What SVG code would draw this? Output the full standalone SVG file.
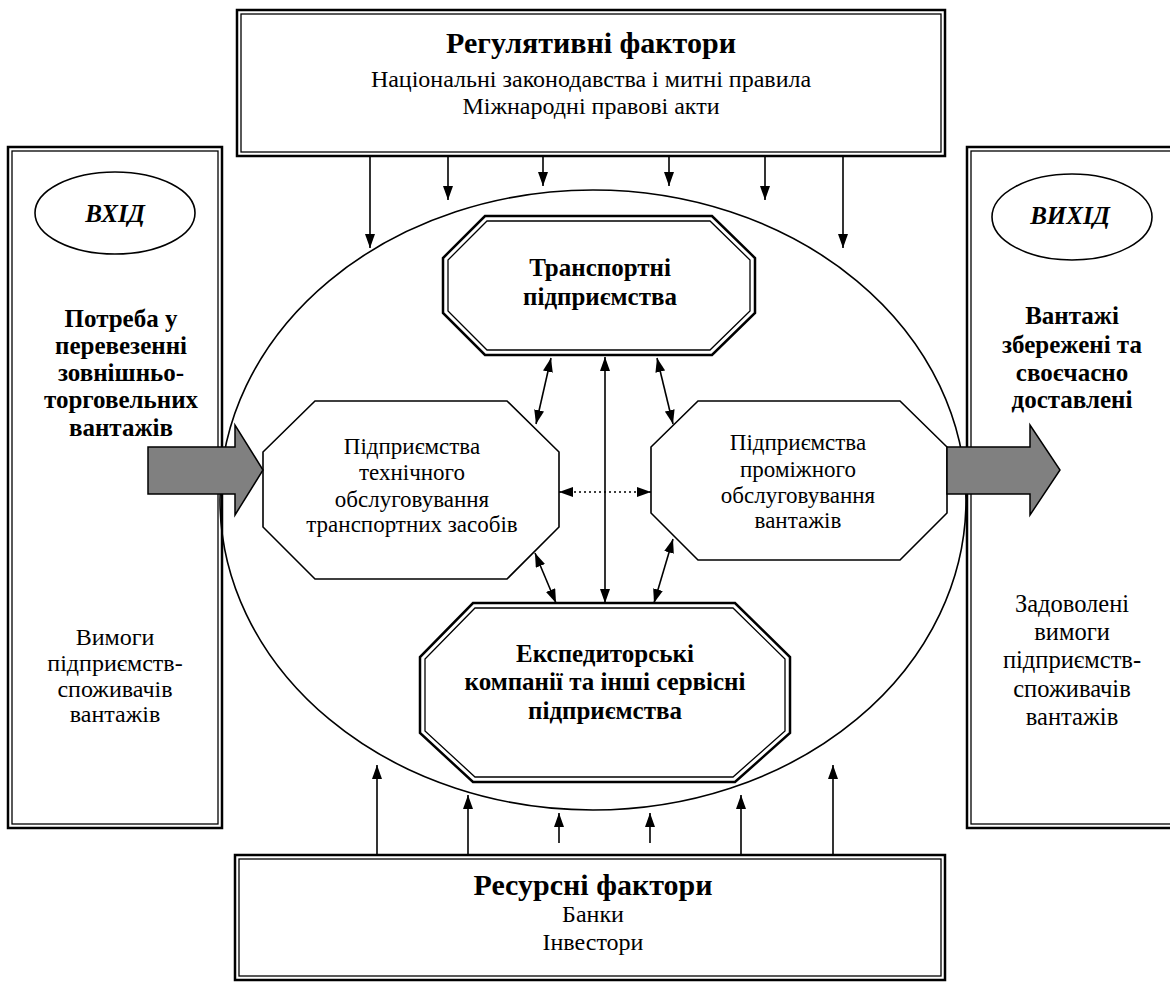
<svg xmlns="http://www.w3.org/2000/svg" width="1170" height="985" viewBox="0 0 1170 985">
<style>
.o{fill:none;stroke:#000;stroke-width:2.5}
.i{fill:none;stroke:#000;stroke-width:1.3}
.w{fill:#fff}
.t{font-family:"Liberation Serif","Times New Roman",serif;fill:#000;text-anchor:middle}
.b{font-weight:bold}
.ln{stroke:#000;stroke-width:1.6;fill:none}
.big{fill:#808080;stroke:#000;stroke-width:1.5}
</style>
<defs>
<marker id="ah" viewBox="0 0 14 10" refX="14" refY="5" markerWidth="14" markerHeight="10" markerUnits="userSpaceOnUse" orient="auto-start-reverse">
<path d="M0,0 L14,5 L0,10 z" fill="#000"/>
</marker>
</defs>
<rect width="1170" height="985" fill="#fff"/>

<g id="system">
<ellipse cx="593" cy="500" rx="373" ry="310" class="ln"/>
</g>

<g id="regulatory">
<rect x="237" y="10" width="708" height="146" class="o w"/>
<rect x="241" y="14" width="700" height="138" class="i"/>
<text class="t b" x="591" y="53" font-size="30">Регулятивні фактори</text>
<text class="t" x="591" y="87" font-size="24">Національні законодавства і митні правила</text>
<text class="t" x="591" y="114" font-size="24">Міжнародні правові акти</text>
</g>

<g id="resources">
<rect x="235" y="855" width="710" height="125" class="o w"/>
<rect x="239" y="859" width="702" height="117" class="i"/>
<text class="t b" x="593" y="895" font-size="30">Ресурсні фактори</text>
<text class="t" x="593" y="922" font-size="24">Банки</text>
<text class="t" x="593" y="950" font-size="24">Інвестори</text>
</g>

<g id="input">
<rect x="8" y="147" width="214" height="681" class="o"/>
<rect x="12" y="151" width="206" height="673" class="i"/>
<ellipse cx="115" cy="213" rx="80" ry="41" class="ln" stroke-width="1.3"/>
<text class="t b" x="115" y="222" font-size="25" font-style="italic">ВХІД</text>
<text class="t b" font-size="25"><tspan x="121" y="327">Потреба у</tspan><tspan x="121" y="354">перевезенні</tspan><tspan x="121" y="381">зовнішньо-</tspan><tspan x="121" y="408">торговельних</tspan><tspan x="121" y="436">вантажів</tspan></text>
<text class="t" font-size="24"><tspan x="115" y="645">Вимоги</tspan><tspan x="115" y="671">підприємств-</tspan><tspan x="115" y="697">споживачів</tspan><tspan x="115" y="722">вантажів</tspan></text>
</g>

<g id="output">
<rect x="967" y="147" width="213" height="681" class="o"/>
<rect x="971" y="151" width="205" height="673" class="i"/>
<ellipse cx="1072" cy="217" rx="80" ry="43" class="ln" stroke-width="1.3"/>
<text class="t b" x="1070" y="224" font-size="25" font-style="italic">ВИХІД</text>
<text class="t b" font-size="25"><tspan x="1072" y="324">Вантажі</tspan><tspan x="1072" y="353">збережені та</tspan><tspan x="1072" y="381">своєчасно</tspan><tspan x="1072" y="408">доставлені</tspan></text>
<text class="t" font-size="24.5"><tspan x="1072" y="612">Задоволені</tspan><tspan x="1072" y="640">вимоги</tspan><tspan x="1072" y="668">підприємств-</tspan><tspan x="1072" y="697">споживачів</tspan><tspan x="1072" y="725">вантажів</tspan></text>
</g>

<g id="transport">
<polygon points="485,216 712,216 755,258 755,313 712,355 485,355 443,313 443,258" class="o w"/>
<polygon points="487,221 710,221 750,260 750,311 710,350 487,350 448,311 448,260" class="i"/>
<text class="t b" font-size="25"><tspan x="600" y="276">Транспортні</tspan><tspan x="600" y="305">підприємства</tspan></text>
</g>

<g id="maintenance">
<polygon points="315,401 507,401 559,452 559,527 507,579 315,579 263,527 263,452" class="ln w"/>
<text class="t" font-size="23"><tspan x="412" y="454">Підприємства</tspan><tspan x="412" y="480">технічного</tspan><tspan x="412" y="507">обслуговування</tspan><tspan x="412" y="532">транспортних засобів</tspan></text>
</g>

<g id="handling">
<polygon points="698,401 900,401 947,447 947,513 900,560 698,560 651,513 651,447" class="ln w"/>
<text class="t" font-size="23"><tspan x="798" y="450">Підприємства</tspan><tspan x="798" y="477">проміжного</tspan><tspan x="798" y="503">обслуговування</tspan><tspan x="798" y="528">вантажів</tspan></text>
</g>

<g id="forwarding">
<polygon points="473,603 735,603 790,657 790,733 735,782 473,782 420,733 420,657" class="o w"/>
<polygon points="475,608 733,608 785,659 785,731 733,777 475,777 425,731 425,659" class="i"/>
<text class="t b" font-size="25"><tspan x="605" y="662">Експедиторські</tspan><tspan x="605" y="690">компанії та інші сервісні</tspan><tspan x="605" y="719">підприємства</tspan></text>
</g>

<g id="connectors">
<polygon points="148,447 235,447 235,425 263,470 235,515 235,494 148,494" class="big"/>
<polygon points="947,447 1030,447 1030,425 1060,470 1030,515 1030,494 947,494" class="big"/>
<g class="ln" marker-end="url(#ah)">
<line x1="370" y1="156" x2="370" y2="248"/>
<line x1="448" y1="156" x2="448" y2="200"/>
<line x1="543" y1="156" x2="543" y2="186"/>
<line x1="669" y1="156" x2="669" y2="186"/>
<line x1="765" y1="156" x2="765" y2="200"/>
<line x1="843" y1="156" x2="843" y2="248"/>
<line x1="377" y1="855" x2="377" y2="765"/>
<line x1="468" y1="855" x2="468" y2="795"/>
<line x1="559" y1="843" x2="559" y2="813"/>
<line x1="650" y1="843" x2="650" y2="813"/>
<line x1="741" y1="855" x2="741" y2="795"/>
<line x1="833" y1="855" x2="833" y2="765"/>
</g>
<g class="ln" marker-start="url(#ah)" marker-end="url(#ah)">
<line x1="605" y1="357" x2="605" y2="603"/>
<line x1="551" y1="358" x2="536" y2="424"/>
<line x1="657" y1="358" x2="673" y2="424"/>
<line x1="535" y1="553" x2="556" y2="603"/>
<line x1="673" y1="539" x2="654" y2="603"/>
<line x1="559" y1="492" x2="651" y2="492" stroke-dasharray="2,3"/>
</g>
</g>
</svg>
